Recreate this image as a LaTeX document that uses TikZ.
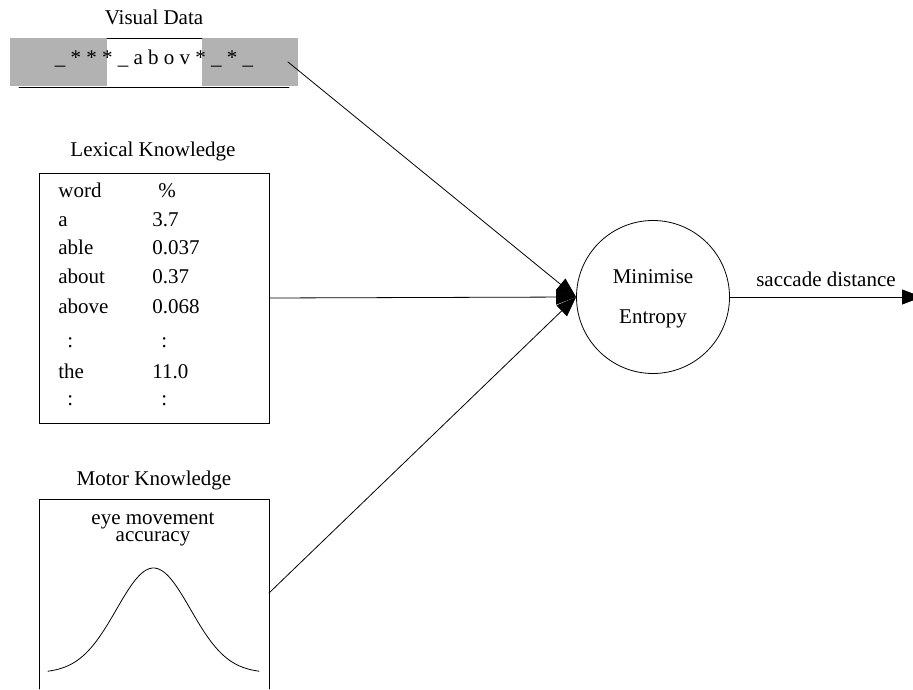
\documentclass[tikz,border=0pt]{standalone}
\usepackage{fontspec}
\setmainfont{Liberation Serif}
\usetikzlibrary{arrows.meta,positioning}

\begin{document}
\begin{tikzpicture}
        [x=0.5pt, y=-0.5pt, line cap=round,
        % Styles
        every node/.style={font=\fontsize{10.5}{12.6}\selectfont, inner sep=0pt},
        title text/.style={anchor=base},
        table text/.style={anchor=base west},
        input arrow/.style={-{Triangle[length=10pt, width=7.5pt]}},
        knowledge box/.style={draw, minimum width=115pt, minimum height=125pt}]

        % Colors
        \colorlet{maskcolor}{black!30}

        \useasboundingbox (0, 0) rectangle (913, 689);

        % Visual data
        \node[title text] (vis title) at (154, 25) {Visual Data};
        \fill[maskcolor] (10, 38) rectangle (107, 86);
        \fill[maskcolor] (202, 38) rectangle (298, 86);
        \draw (107, 38) -- (202, 38);
        \draw (19, 87) -- (289, 87);
        \node[title text] (vis) at (154, 65) {\_ * * * \_ a b o v * \_ * \_};
        \coordinate (vis out) at (288, 62);

        % Lexical knowledge
        \node[title text] (lex title) at (153, 157) {Lexical Knowledge};
        \node[knowledge box] (lex) at (154, 298) {};
        \foreach \w/\xa/\p/\xb/\y [count=\i] in
                {word/58/\%/158/198, a/58/3.7/152/227, able/58/0.037/152/255,
                 about/58/0.37/152/284, above/58/0.068/152/313, :/67/:/161/347,
                 the/58/11.0/152/378, :/67/:/161/405}
                \node[table text] (word \i) at (\xa, \y) {\w}
                      node[table text] (freq \i) at (\xb, \y) {\p};

        % Motor knowledge
        \node[title text] (motor title) at (154, 485) {Motor Knowledge};
        \draw (39, 689) -- (39, 499) -- (269, 499) -- (269, 689);
        \node[align=center, font=\fontsize{10.5}{8.5}\selectfont] (motor label) at (153, 529)
                {eye movement\\accuracy};
        \draw plot[domain=48:259, samples=80, smooth]
                (\x, {673 - 105*exp(-((\x-153.5)^2)/(2*37^2))});
        \coordinate (motor out) at (269, 593);

        % The decision
        \node[draw, circle, minimum size=76.5pt] (entropy) at (653, 297) {};
        \node[title text] (entropy label) at (653, 283) {Minimise};
        \node[title text] (entropy label 2) at (653, 323) {Entropy};
        \coordinate (out) at (922, 297);

        \draw[input arrow] (vis out) -- (entropy.west);
        \draw[input arrow] (lex.east) -- (entropy.west);
        \draw[input arrow] (motor out) -- (entropy.west);
        \draw[input arrow] (entropy.east) -- node[midway, above=5pt] (saccade) {saccade distance} (out);
\end{tikzpicture}
\end{document}
